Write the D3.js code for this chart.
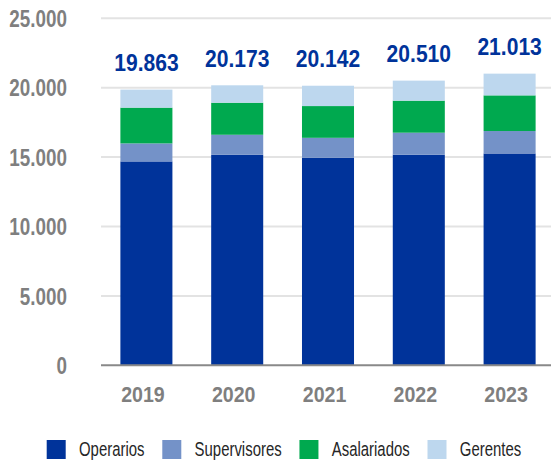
<!DOCTYPE html>
<html>
<head>
<meta charset="utf-8">
<script src="https://cdn.jsdelivr.net/npm/d3@7"></script>
<style>
  html, body { margin: 0; padding: 0; background: #fff; }
  svg { display: block; }
  text { font-family: "Liberation Sans", Arial, sans-serif; }
</style>
</head>
<body>
<svg id="chart" width="551" height="463"></svg>
<script>
const years = ["2019", "2020", "2021", "2022", "2023"];
const seriesNames = ["Operarios", "Supervisores", "Asalariados", "Gerentes"];
const operarios    = [14689, 15166, 14947, 15171, 15262];
const supervisores = [1299, 1443, 1443, 1587, 1616];
const asalariados  = [2576, 2309, 2287, 2309, 2569];
const gerentes     = [1299, 1255, 1465, 1443, 1566];
const totalLabels  = ["19.863", "20.173", "20.142", "20.510", "21.013"];
const totals       = [19863, 20173, 20142, 20510, 21013];
const yTicks       = [0, 5000, 10000, 15000, 20000, 25000];
const yTickLabels  = ["0", "5.000", "10.000", "15.000", "20.000", "25.000"];

const colors = ["#00339A", "#7492C8", "#00A94F", "#BDD7EE"];

const svg = d3.select("#chart");
const width = 551, height = 463;

const x = d3.scaleBand().domain(years).range([101, 555]).paddingInner(0.427).paddingOuter(0.2135);
const y = d3.scaleLinear().domain([0, 25000]).range([365.3, 18.3]);

// gridlines
svg.append("g").selectAll("line")
  .data(yTicks.filter(d => d > 0))
  .join("line")
  .attr("x1", 101).attr("x2", width)
  .attr("y1", d => y(d)).attr("y2", d => y(d))
  .attr("stroke", "#E3E3E3").attr("stroke-width", 2);

// stacked data
const rows = years.map((yr, i) => ({
  year: yr,
  Operarios: operarios[i],
  Supervisores: supervisores[i],
  Asalariados: asalariados[i],
  Gerentes: gerentes[i]
}));
const stack = d3.stack().keys(seriesNames)(rows);

svg.append("g").selectAll("g")
  .data(stack)
  .join("g")
  .attr("fill", (d, i) => colors[i])
  .selectAll("rect")
  .data(d => d)
  .join("rect")
  .attr("x", d => x(d.data.year))
  .attr("width", x.bandwidth())
  .attr("y", d => y(d[1]))
  .attr("height", d => y(d[0]) - y(d[1]));

// x axis line
svg.append("line")
  .attr("x1", 101).attr("x2", width)
  .attr("y1", y(0)).attr("y2", y(0))
  .attr("stroke", "#898989").attr("stroke-width", 2);

// y tick labels (condensed bold)
const yAxis = d3.axisLeft(y).tickValues(yTicks).tickFormat((d, i) => yTickLabels[i]).tickSize(0).tickPadding(0);
const ya = svg.append("g").attr("transform", "translate(67,0)").call(yAxis);
ya.select(".domain").remove();
ya.selectAll("text")
  .attr("x", 0)
  .attr("fill", "#7F7F7F")
  .attr("font-size", 23)
  .attr("font-weight", "bold")
  .style("font-family", '"Liberation Sans", Arial, sans-serif')
  .attr("dy", "0.36em")
  .attr("transform", "scale(0.82,1)");

// x tick labels
const xAxis = d3.axisBottom(x).tickSize(0).tickPadding(0);
const xa = svg.append("g").call(xAxis);
xa.select(".domain").remove();
const xs = 0.87;
xa.selectAll("text")
  .attr("fill", "#7F7F7F")
  .attr("font-size", 22.5)
  .attr("font-weight", "bold")
  .style("font-family", '"Liberation Sans", Arial, sans-serif')
  .attr("y", 401.7).attr("dy", 0)
  .attr("x", 0)
  .attr("dx", -3.5 / xs)
  .attr("transform", `scale(${xs},1)`);

// total labels
svg.append("g").selectAll("g")
  .data(years)
  .join("g")
  .attr("transform", (d, i) => `translate(${x(d) + x.bandwidth() / 2},${y(totals[i]) - 18.5}) scale(0.86,1)`)
  .append("text")
  .attr("text-anchor", "middle")
  .attr("fill", "#00339A")
  .attr("font-size", 24.5)
  .attr("font-weight", "bold")
  .text((d, i) => totalLabels[i]);

// legend
const legend = svg.append("g");
const ls = 0.765;
let lx = 46.7;
seriesNames.forEach((name, i) => {
  legend.append("rect")
    .attr("x", lx).attr("y", 440)
    .attr("width", 19).attr("height", 19)
    .attr("fill", colors[i]);
  const t = legend.append("g")
    .attr("transform", `translate(${lx + 32.3},456) scale(${ls},1)`)
    .append("text")
    .attr("fill", "#262626")
    .attr("font-size", 19.5)
    .text(name);
  const w = t.node().getComputedTextLength() * ls;
  lx = lx + 32.3 + w + 17.8;
});
</script>
</body>
</html>
